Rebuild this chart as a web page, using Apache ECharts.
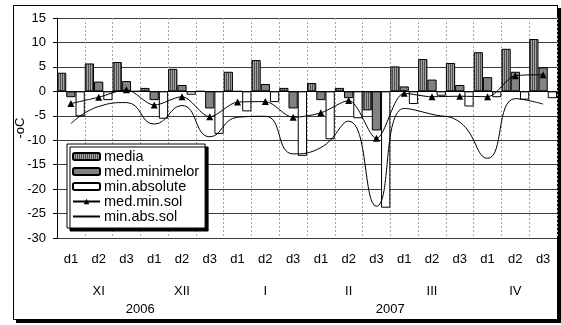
<!DOCTYPE html>
<html>
<head>
<meta charset="utf-8">
<script src="https://cdn.jsdelivr.net/npm/echarts@6/dist/echarts.min.js"></script>
<style>
  html, body { margin: 0; padding: 0; background: #fff; }
  #frame {
    position: absolute; left: 13px; top: 5px; width: 543px; height: 313px;
    border: 1px solid #000; box-shadow: 3px 3px 0 #000; background: #fff;
  }
  #chart { position: absolute; left: 0; top: 0; width: 561px; height: 325px; }
</style>
</head>
<body>
<div id="frame"></div>
<div id="chart"></div>
<script>
// decades of each month, months, years
const dekads = ['d1', 'd2', 'd3'];
const months = ['XI', 'XII', 'I', 'II', 'III', 'IV'];
const years = ['2006', '2007'];
const monthsPerYear = [2, 4];

// air temperatures (bars) and soil minimum temperatures (lines), oC
const media = [3.8, 5.7, 6.0, 0.7, 4.6, 0, 4.0, 6.4, 0.7, 1.7, 0.7, -3.9, 5.1, 6.6, 5.8, 8.0, 8.7, 10.7];
const medMinimelor = [-1.2, 2.0, 2.1, -1.8, 1.3, -3.5, 0, 1.5, -3.5, -1.8, -1.4, -8.0, 1.0, 2.4, 1.3, 2.9, 4.0, 4.9];
const minAbsolute = [-5.1, -1.8, 0, -5.6, -0.7, -8.7, -4.1, -2.2, -13.2, -9.8, -5.5, -23.8, -2.6, -0.9, -3.1, -1.2, -1.7, -1.4];
const medMinSol = [-2.5, -1.2, 0.3, -2.8, -1.1, -5.2, -2.2, -2.1, -5.3, -4.4, -1.9, -9.6, -0.4, -1.1, -1.0, -1.1, 3.2, 3.4];
const minAbsSol = [-6.6, -3.1, -2.3, -6.7, -2.9, -9.3, -5.3, -5.1, -12.8, -11.5, -6.1, -23.5, -3.5, -4.7, -6.3, -13.7, -1.5, -2.6];

const dekadLabels = months.flatMap(() => dekads);
const nCats = dekadLabels.length;

// year label sits in the middle of its months
const yearCenters = {};
let start = 0;
years.forEach((y, i) => {
  const n = monthsPerYear[i] * dekads.length;
  yearCenters[start + n / 2] = y;
  start += n;
});

// vertical hatch for "media"
const hatch = document.createElement('canvas');
hatch.width = 2;
hatch.height = 2;
const hctx = hatch.getContext('2d');
hctx.fillStyle = '#a2a2a2';
hctx.fillRect(0, 0, 2, 2);
hctx.fillStyle = '#4e4e4e';
hctx.fillRect(0, 0, 1, 2);

const font = 'Liberation Sans, Arial, sans-serif';
const chart = echarts.init(document.getElementById('chart'));

chart.setOption({
  animation: false,
  backgroundColor: 'transparent',
  textStyle: { fontFamily: font, color: '#000' },
  grid: { left: 57, right: 4, top: 18, bottom: 87 },
  legend: {
    orient: 'vertical',
    left: 67,
    top: 144,
    itemWidth: 27,
    itemHeight: 7,
    itemGap: 0,
    padding: [5, 6, 4, 5],
    backgroundColor: '#fff',
    borderColor: '#000',
    borderWidth: 1,
    shadowColor: '#000',
    shadowOffsetX: 3,
    shadowOffsetY: 3,
    shadowBlur: 0,
    textStyle: { fontFamily: font, fontSize: 14.5, lineHeight: 15, color: '#000', padding: [0, 0, 0, -1] },
    data: [
      'media',
      'med.minimelor',
      'min.absolute',
      'med.min.sol',
      // plain line, no marker in the key
      { name: 'min.abs.sol', itemStyle: { color: 'rgba(0,0,0,0)', borderWidth: 0 } },
    ],
  },
  xAxis: [
    {
      type: 'category',
      data: dekadLabels,
      position: 'bottom',
      axisLine: { lineStyle: { color: '#000', width: 1 } },
      axisTick: { interval: 0, length: 30, lineStyle: { color: '#000' } },
      axisLabel: { interval: 0, margin: 15, fontSize: 13, color: '#000', fontFamily: font },
      splitLine: { show: true, interval: 0, lineStyle: { color: '#a8a8a8', type: [2, 2] } },
    },
    {
      type: 'category',
      data: months,
      position: 'bottom',
      axisLine: { show: false },
      axisTick: { interval: 0, length: 62, lineStyle: { color: '#000' } },
      axisLabel: { interval: 0, margin: 47, fontSize: 13, color: '#000', fontFamily: font },
      splitLine: { show: false },
    },
    {
      type: 'value',
      min: 0,
      max: nCats,
      interval: 1,
      position: 'bottom',
      axisLine: { show: false },
      axisTick: { show: false },
      splitLine: { show: false },
      axisLabel: {
        margin: 65, fontSize: 13, color: '#000', fontFamily: font, showMinLabel: true, showMaxLabel: true,
        formatter: (v) => yearCenters[v] || '',
      },
    },
  ],
  yAxis: {
    type: 'value',
    min: -30,
    max: 15,
    interval: 5,
    name: '-oC',
    nameLocation: 'middle',
    nameRotate: 90,
    nameGap: 30,
    nameMoveOverlap: false,
    nameTextStyle: { fontSize: 13, color: '#000', fontFamily: font },
    axisLine: { show: true, lineStyle: { color: '#000' } },
    axisTick: { show: true, length: 4, lineStyle: { color: '#000' } },
    axisLabel: { fontSize: 13, color: '#000', margin: 11, fontFamily: font },
    splitLine: { lineStyle: { color: '#3a3a3a' } },
  },
  series: [
    {
      name: 'media',
      type: 'bar',
      data: media,
      barGap: '0%',
      barCategoryGap: '0%',
      itemStyle: { color: { image: hatch, repeat: 'repeat' }, borderColor: '#000', borderWidth: 1 },
    },
    {
      name: 'med.minimelor',
      type: 'bar',
      data: medMinimelor,
      barGap: '0%',
      barCategoryGap: '0%',
      itemStyle: { color: '#828282', borderColor: '#000', borderWidth: 1 },
    },
    {
      name: 'min.absolute',
      type: 'bar',
      data: minAbsolute,
      barGap: '0%',
      barCategoryGap: '0%',
      itemStyle: { color: '#fff', borderColor: '#000', borderWidth: 1 },
    },
    {
      name: 'med.min.sol',
      type: 'line',
      data: medMinSol,
      smooth: 0.3,
      symbol: 'triangle',
      symbolSize: 7,
      itemStyle: { color: '#000' },
      lineStyle: { color: '#000', width: 1 },
    },
    {
      name: 'min.abs.sol',
      type: 'line',
      data: minAbsSol,
      smooth: 0.5,
      symbol: 'circle',
      symbolSize: 0,
      showSymbol: false,
      itemStyle: { color: '#000' },
      lineStyle: { color: '#000', width: 1 },
    },
  ],
});
</script>
</body>
</html>
